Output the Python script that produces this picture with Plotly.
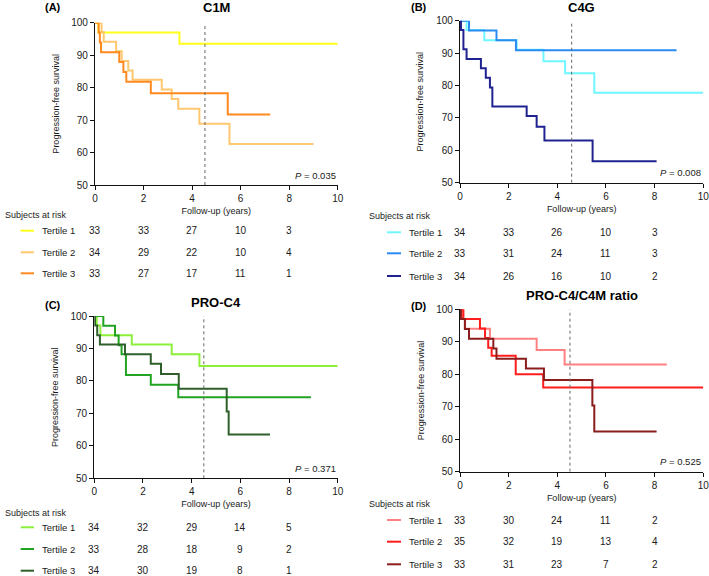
import plotly.graph_objects as go

# ---------------- data ----------------
tick_years = [0, 2, 4, 6, 8]
tertile_labels = ["Tertile 1", "Tertile 2", "Tertile 3"]

# Panel A: C1M
c1m_title = "C1M"
c1m_p = "0.035"
c1m_median = 4.53
c1m_colors = ["#FFFF1A", "#FFC870", "#FF8A1F"]
c1m_t1_time = [0, 0.14, 3.48, 10]
c1m_t1_surv = [100, 96.97, 93.5, 93.5]
c1m_t2_time = [0, 0.27, 0.36, 0.87, 1.1, 1.37, 1.55, 2.75, 3.16, 3.43, 4.3, 5.54, 9.0]
c1m_t2_surv = [100, 97.1, 94.1, 91.2, 88.2, 85.3, 82.4, 79.4, 76.5, 73.5, 68.9, 62.6, 62.6]
c1m_t3_time = [0, 0.15, 0.2, 0.25, 1.0, 1.17, 1.29, 2.3, 5.47, 7.22]
c1m_t3_surv = [100, 97.0, 93.9, 90.9, 87.9, 84.8, 81.8, 78.3, 71.7, 71.7]
c1m_risk = [[33, 33, 27, 10, 3], [34, 29, 22, 10, 4], [33, 27, 17, 11, 1]]

# Panel B: C4G
c4g_title = "C4G"
c4g_p = "0.008"
c4g_median = 4.59
c4g_colors = ["#6EF7FF", "#2A8BF2", "#1F2290"]
c4g_t1_time = [0, 0.27, 1.0, 2.33, 3.43, 4.32, 5.52, 10]
c4g_t1_surv = [100, 97.1, 94.0, 91.0, 87.5, 83.8, 77.8, 77.8]
c4g_t2_time = [0, 0.37, 1.5, 2.3, 8.9]
c4g_t2_surv = [100, 97.0, 94.0, 90.9, 90.9]
c4g_t3_time = [0, 0.04, 0.14, 0.27, 0.86, 1.06, 1.23, 1.33, 2.74, 3.15, 3.47, 5.45, 8.08]
c4g_t3_surv = [100, 97.1, 91.2, 88.2, 85.3, 82.4, 79.4, 73.5, 70.6, 67.3, 63.0, 56.6, 56.6]
c4g_risk = [[34, 33, 26, 10, 3], [33, 31, 24, 11, 3], [34, 26, 16, 10, 2]]

# Panel C: PRO-C4
proc4_title = "PRO-C4"
proc4_p = "0.371"
proc4_median = 4.5
proc4_colors = ["#8CF03A", "#22A322", "#2F5F2B"]
proc4_t1_time = [0, 0.1, 0.25, 1.54, 3.18, 4.32, 10]
proc4_t1_surv = [100, 97.1, 94.1, 91.2, 88.2, 84.6, 84.6]
proc4_t2_time = [0, 0.37, 0.85, 1.0, 1.12, 1.3, 2.32, 3.45, 8.9]
proc4_t2_surv = [100, 97.0, 94.0, 91.0, 88.2, 81.8, 78.8, 75.0, 75.0]
proc4_t3_time = [0, 0.03, 0.12, 0.23, 1.26, 2.32, 2.74, 3.47, 5.44, 5.52, 7.22]
proc4_t3_surv = [100, 97.1, 94.1, 91.2, 88.2, 85.3, 82.1, 77.6, 70.6, 63.5, 63.5]
proc4_risk = [[34, 32, 29, 14, 5], [33, 28, 18, 9, 2], [34, 30, 19, 8, 1]]

# Panel D: PRO-C4/C4M ratio
ratio_title = "PRO-C4/C4M ratio"
ratio_p = "0.525"
ratio_median = 4.52
ratio_colors = ["#FF8080", "#FF1C1C", "#8A1C1C"]
ratio_t1_time = [0, 0.1, 0.21, 1.23, 3.15, 4.3, 8.5]
ratio_t1_surv = [100, 97.0, 94.0, 90.9, 87.5, 83.0, 83.0]
ratio_t2_time = [0, 0.14, 0.82, 1.03, 1.16, 1.3, 2.29, 3.42, 10]
ratio_t2_surv = [100, 97.0, 94.1, 91.2, 88.2, 85.7, 80.0, 75.9, 75.9]
ratio_t3_time = [0, 0.04, 0.2, 0.37, 1.37, 1.5, 2.71, 3.45, 5.44, 5.52, 8.08]
ratio_t3_surv = [100, 97.0, 93.9, 90.9, 87.9, 84.8, 81.8, 78.2, 70.4, 62.4, 62.4]
ratio_risk = [[33, 30, 24, 11, 2], [35, 32, 19, 13, 4], [33, 31, 23, 7, 2]]

# ---------------- layout geometry (pixels) ----------------
W, H = 709, 576
def px(x): return x / W
def py(y): return 1 - y / H

FONT = "Liberation Sans, Arial, Helvetica, sans-serif"
TXT = "#1a1a1a"

panels = [
    dict(label="(A)", title=c1m_title, p=c1m_p, median=c1m_median, colors=c1m_colors,
         curves=[(c1m_t1_time, c1m_t1_surv), (c1m_t2_time, c1m_t2_surv), (c1m_t3_time, c1m_t3_surv)],
         risk=c1m_risk,
         box=(95, 337.7, 22.7, 185), title_y=7, label_x=53.5, label_y=7,
         sar_x=3, sar_y=215, leg_x=(20.7, 34), lab_x=40, rows=[230.7, 252.3, 273.3]),
    dict(label="(B)", title=c4g_title, p=c4g_p, median=c4g_median, colors=c4g_colors,
         curves=[(c4g_t1_time, c4g_t1_surv), (c4g_t2_time, c4g_t2_surv), (c4g_t3_time, c4g_t3_surv)],
         risk=c4g_risk,
         box=(460, 703.3, 20.7, 182.7), title_y=7, label_x=418.5, label_y=7,
         sar_x=366.7, sar_y=215.7, leg_x=(387, 401), lab_x=406.7, rows=[232.3, 253.3, 276]),
    dict(label="(C)", title=proc4_title, p=proc4_p, median=proc4_median, colors=proc4_colors,
         curves=[(proc4_t1_time, proc4_t1_surv), (proc4_t2_time, proc4_t2_surv), (proc4_t3_time, proc4_t3_surv)],
         risk=proc4_risk,
         box=(94.3, 337.7, 316, 478.3), title_y=302.3, label_x=53.5, label_y=305,
         sar_x=3, sar_y=512.7, leg_x=(20.7, 34), lab_x=40, rows=[527.3, 549, 570.7]),
    dict(label="(D)", title=ratio_title, p=ratio_p, median=ratio_median, colors=ratio_colors,
         curves=[(ratio_t1_time, ratio_t1_surv), (ratio_t2_time, ratio_t2_surv), (ratio_t3_time, ratio_t3_surv)],
         risk=ratio_risk,
         box=(460, 703.3, 309.3, 471.7), title_y=295.7, label_x=418.5, label_y=305.7,
         sar_x=366.7, sar_y=504.3, leg_x=(387, 401), lab_x=406.7, rows=[520, 541.7, 564.3]),
]

fig = go.Figure()
layout = dict(
    width=W, height=H, margin=dict(l=0, r=0, t=0, b=0, autoexpand=False),
    paper_bgcolor="white", plot_bgcolor="white",
    font=dict(family=FONT, color=TXT, size=10),
    showlegend=False,
)
shapes, annotations = [], []

for i, pnl in enumerate(panels):
    n = "" if i == 0 else str(i + 1)
    xa, ya = "x" + n, "y" + n
    x0, x1, y0, y1 = pnl["box"]
    axis_common = dict(showline=True, linecolor="#111", linewidth=1.3, ticks="outside",
                       ticklen=4, tickwidth=1.3, tickcolor="#111", showgrid=False,
                       zeroline=False, automargin=False, ticklabeloverflow="allow",
                       tickfont=dict(size=10, color=TXT, family=FONT))
    layout["xaxis" + n] = dict(axis_common, domain=[px(x0), px(x1)], range=[0, 10],
                               tickvals=[0, 2, 4, 6, 8, 10], anchor=ya,
                               title=dict(text="Follow-up (years)", font=dict(size=9, color=TXT),
                                          standoff=4))
    layout["yaxis" + n] = dict(axis_common, domain=[py(y1), py(y0)], range=[50, 100],
                               tickvals=[50, 60, 70, 80, 90, 100], anchor=xa,
                               title=dict(text="Progression-free survival", font=dict(size=9, color=TXT),
                                          standoff=10))
    for (t, s), c in zip(pnl["curves"], pnl["colors"]):
        fig.add_trace(go.Scatter(x=t, y=s, mode="lines", xaxis=xa, yaxis=ya,
                                 line=dict(shape="hv", color=c, width=2),
                                 hoverinfo="skip", showlegend=False))
    shapes.append(dict(type="line", xref=xa, yref=ya, x0=pnl["median"], x1=pnl["median"],
                       y0=50, y1=100, line=dict(color="#666", width=1, dash="dot")))
    annotations.append(dict(text="<b>%s</b>" % pnl["title"], xref="paper", yref="paper",
                            x=px((x0 + x1) / 2), y=py(pnl["title_y"]), xanchor="center",
                            yanchor="middle", showarrow=False, font=dict(size=13, color="#000")))
    annotations.append(dict(text="<b>%s</b>" % pnl["label"], xref="paper", yref="paper",
                            x=px(pnl["label_x"]), y=py(pnl["label_y"]), xanchor="center",
                            yanchor="middle", showarrow=False, font=dict(size=11, color="#000")))
    annotations.append(dict(text="<i>P</i> = %s" % pnl["p"], xref=xa, yref=ya, x=10, y=53,
                            xanchor="right", yanchor="middle", showarrow=False,
                            font=dict(size=9.5, color=TXT)))
    annotations.append(dict(text="Subjects at risk", xref="paper", yref="paper",
                            x=px(pnl["sar_x"]), y=py(pnl["sar_y"]), xanchor="left",
                            yanchor="middle", showarrow=False, font=dict(size=9, color=TXT)))
    for r, (lab, c, row_vals, ry) in enumerate(zip(tertile_labels, pnl["colors"], pnl["risk"], pnl["rows"])):
        shapes.append(dict(type="line", xref="paper", yref="paper",
                           x0=px(pnl["leg_x"][0]), x1=px(pnl["leg_x"][1]), y0=py(ry), y1=py(ry),
                           line=dict(color=c, width=2)))
        annotations.append(dict(text=lab, xref="paper", yref="paper", x=px(pnl["lab_x"]),
                                y=py(ry), xanchor="left", yanchor="middle", showarrow=False,
                                font=dict(size=9.5, color=TXT)))
        for tv, v in zip(tick_years, row_vals):
            annotations.append(dict(text=str(v), xref=xa, yref="paper", x=tv, y=py(ry),
                                    xanchor="center", yanchor="middle", showarrow=False,
                                    font=dict(size=10, color=TXT)))

layout["shapes"] = shapes
layout["annotations"] = annotations
fig.update_layout(**layout)
fig.write_html("out.html", config={"displayModeBar": False},
               post_script="document.body.style.margin='0';document.body.style.padding='0';")
